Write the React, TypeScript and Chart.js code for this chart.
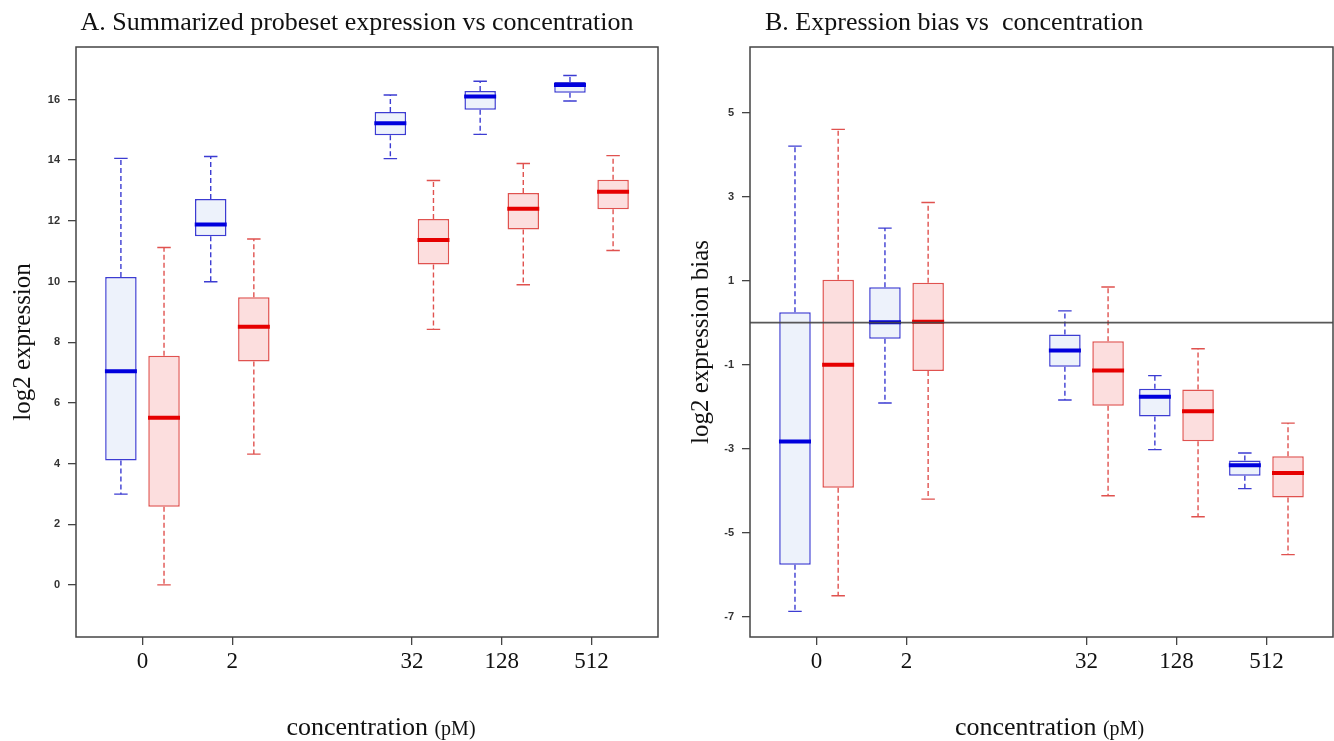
import React, { useEffect, useRef } from 'react';
import { Chart, registerables } from 'chart.js';

Chart.register(...registerables);

// ---------- data ----------
const concentrations = ['0', '2', '32', '128', '512'];
const slots = [1, 2, 4, 5, 6]; // axis position of each concentration group

// Panel A: summarized probeset expression (log2)
const aBlueMin = [2.99, 9.99, 14.05, 14.85, 15.95];
const aBlueQ1 = [4.1, 11.49, 14.82, 15.66, 16.22];
const aBlueMed = [7.04, 11.88, 15.22, 16.1, 16.48];
const aBlueQ3 = [10.15, 12.72, 15.59, 16.28, 16.58];
const aBlueMax = [14.06, 14.12, 16.15, 16.6, 16.79];

const aRedMin = [0, 4.31, 8.42, 9.89, 11.02];
const aRedQ1 = [2.57, 7.36, 10.56, 11.71, 12.38];
const aRedMed = [5.51, 8.51, 11.37, 12.4, 12.96];
const aRedQ3 = [7.55, 9.48, 12.06, 12.92, 13.35];
const aRedMax = [11.12, 11.4, 13.33, 13.89, 14.15];

const aYTicks = [0, 2, 4, 6, 8, 10, 12, 14, 16];

// Panel B: expression bias (log2)
const bBlueMin = [-6.87, -1.91, -1.84, -3.02, -3.95];
const bBlueQ1 = [-5.76, -0.38, -1.05, -2.23, -3.64];
const bBlueMed = [-2.83, 0.01, -0.66, -1.76, -3.39];
const bBlueQ3 = [0.245, 0.84, -0.28, -1.57, -3.28];
const bBlueMax = [4.2, 2.25, 0.28, -1.26, -3.1];

const bRedMin = [-6.5, -4.2, -4.12, -4.62, -5.52];
const bRedQ1 = [-3.93, -1.15, -1.98, -2.82, -4.16];
const bRedMed = [-1.0, 0.02, -1.14, -2.11, -3.58];
const bRedQ3 = [1.02, 0.95, -0.44, -1.59, -3.18];
const bRedMax = [4.6, 2.86, 0.85, -0.62, -2.39];

const bYTicks = [-7, -5, -3, -1, 1, 3, 5];
const bReferenceLevel = 0;

// ---------- styling ----------
const X_MIN = 0.26;
const X_MAX = 6.74;
const GROUP_OFFSET = 0.24;
const BOX_RATIO = 0.73;
const MEDIAN_HALF = 0.178;
const CAP_HALF = 0.075;

const BLUE = { line: '#3c3cd2', fill: '#edf2fb', median: '#0000dd' };
const RED = { line: '#e0524f', fill: '#fcdede', median: '#e60000' };

type Series = { min: number[]; q1: number[]; med: number[]; q3: number[]; max: number[] };
type Palette = { line: string; fill: string; median: string };

function boxplotDatasets(s: Series, offset: number, c: Palette) {
  const xs = slots.map((v) => v + offset);
  const whiskers: any[] = [];
  const caps: any[] = [];
  const medians: any[] = [];
  xs.forEach((x, i) => {
    whiskers.push({ x, y: s.q3[i] }, { x, y: s.max[i] }, { x, y: null });
    whiskers.push({ x, y: s.q1[i] }, { x, y: s.min[i] }, { x, y: null });
    caps.push({ x: x - CAP_HALF, y: s.max[i] }, { x: x + CAP_HALF, y: s.max[i] }, { x, y: null });
    caps.push({ x: x - CAP_HALF, y: s.min[i] }, { x: x + CAP_HALF, y: s.min[i] }, { x, y: null });
    medians.push({ x: x - MEDIAN_HALF, y: s.med[i] }, { x: x + MEDIAN_HALF, y: s.med[i] }, { x, y: null });
  });
  return [
    {
      type: 'bar',
      data: xs.map((x, i) => ({ x, y: [s.q1[i], s.q3[i]] })),
      backgroundColor: c.fill,
      borderColor: c.line,
      borderWidth: 1.5,
      borderSkipped: false,
      grouped: false,
      categoryPercentage: 1,
      barPercentage: BOX_RATIO,
      order: 2,
    },
    {
      type: 'line',
      data: whiskers,
      borderColor: c.line,
      borderWidth: 1.4,
      borderDash: [5, 3],
      pointRadius: 0,
      spanGaps: false,
      order: 3,
    },
    {
      type: 'line',
      data: caps,
      borderColor: c.line,
      borderWidth: 1.4,
      pointRadius: 0,
      spanGaps: false,
      order: 3,
    },
    {
      type: 'line',
      data: medians,
      borderColor: c.median,
      borderWidth: 4,
      borderCapStyle: 'butt',
      pointRadius: 0,
      spanGaps: false,
      order: 1,
    },
  ];
}

type PanelCfg = {
  title: string;
  titleAlign: 'center' | 'left';
  titleShift: number;
  xTitleShift: number;
  yTitle: string;
  yTitleSize: number;
  yTitlePad: number;
  yWidth: number;
  yMin: number;
  yMax: number;
  yTicks: number[];
  rightPad: number;
  blue: Series;
  red: Series;
  reference?: number;
};

function decorPlugin(cfg: PanelCfg) {
  return {
    id: 'decor',
    afterDraw(chart: any) {
      const { ctx, chartArea: a } = chart;
      ctx.save();
      ctx.strokeStyle = '#444';
      ctx.lineWidth = 1.5;
      ctx.strokeRect(a.left, a.top, a.right - a.left, a.bottom - a.top);

      ctx.fillStyle = '#111';
      ctx.textBaseline = 'alphabetic';
      ctx.font = '26px "Liberation Serif"';
      if (cfg.titleAlign === 'center') {
        ctx.textAlign = 'center';
        ctx.fillText(cfg.title, (a.left + a.right) / 2 + cfg.titleShift, 30);
      } else {
        ctx.textAlign = 'left';
        ctx.fillText(cfg.title, a.left + cfg.titleShift, 30);
      }

      const p1 = 'concentration ';
      const p2 = '(pM)';
      ctx.font = '26px "Liberation Serif"';
      const w1 = ctx.measureText(p1).width;
      ctx.font = '20px "Liberation Serif"';
      const w2 = ctx.measureText(p2).width;
      const x0 = (a.left + a.right) / 2 - (w1 + w2) / 2 + cfg.xTitleShift;
      ctx.textAlign = 'left';
      ctx.font = '26px "Liberation Serif"';
      ctx.fillText(p1, x0, 735);
      ctx.font = '20px "Liberation Serif"';
      ctx.fillText(p2, x0 + w1, 735);
      ctx.restore();
    },
  };
}

function buildChart(canvas: HTMLCanvasElement, cfg: PanelCfg) {
  const datasets: any[] = [
    ...boxplotDatasets(cfg.blue, -GROUP_OFFSET, BLUE),
    ...boxplotDatasets(cfg.red, GROUP_OFFSET, RED),
  ];
  if (cfg.reference !== undefined) {
    datasets.push({
      type: 'line',
      data: [
        { x: X_MIN, y: cfg.reference },
        { x: X_MAX, y: cfg.reference },
      ],
      borderColor: 'rgba(70,70,70,0.9)',
      borderWidth: 1.6,
      pointRadius: 0,
      order: 0,
    });
  }
  return new Chart(canvas, {
    type: 'bar',
    data: { datasets },
    options: {
      responsive: false,
      animation: false,
      events: [],
      layout: { padding: { top: 47, right: cfg.rightPad, left: 0, bottom: 0 } },
      plugins: {
        legend: { display: false },
        tooltip: { enabled: false },
        title: { display: false },
      },
      scales: {
        x: {
          type: 'linear',
          min: X_MIN,
          max: X_MAX,
          offset: false,
          afterBuildTicks: (s: any) => {
            s.ticks = slots.map((v) => ({ value: v }));
          },
          afterFit: (s: any) => {
            s.height = 104;
          },
          ticks: {
            autoSkip: false,
            maxRotation: 0,
            callback: (_v: any, i: number) => concentrations[i],
            font: { family: '"Liberation Serif"', size: 23 },
            color: '#111',
            padding: 3,
          },
          grid: { drawOnChartArea: false, drawTicks: true, tickLength: 8, color: '#444', lineWidth: 1.3, offset: false },
          border: { display: false },
        },
        y: {
          type: 'linear',
          min: cfg.yMin,
          max: cfg.yMax,
          afterBuildTicks: (s: any) => {
            s.ticks = cfg.yTicks.map((v) => ({ value: v }));
          },
          afterFit: (s: any) => {
            s.width = cfg.yWidth;
          },
          ticks: {
            autoSkip: false,
            callback: (v: any) => String(v),
            font: { family: '"Liberation Sans"', size: 11, weight: 'bold' },
            color: '#333',
            padding: 8,
          },
          grid: { drawOnChartArea: false, drawTicks: true, tickLength: 8, color: '#444', lineWidth: 1.3 },
          border: { display: false },
          title: {
            display: true,
            text: cfg.yTitle,
            font: { family: '"Liberation Serif"', size: cfg.yTitleSize },
            color: '#111',
            padding: { top: cfg.yTitlePad, bottom: 0 },
          },
        },
      },
    } as any,
    plugins: [decorPlugin(cfg)],
  } as any);
}

const panelA: PanelCfg = {
  title: 'A. Summarized probeset expression vs concentration',
  titleAlign: 'center',
  titleShift: -10,
  xTitleShift: 14,
  yTitle: 'log2 expression',
  yTitleSize: 25,
  yTitlePad: 8,
  yWidth: 76,
  yMin: -1.72,
  yMax: 17.73,
  yTicks: aYTicks,
  rightPad: 9,
  blue: { min: aBlueMin, q1: aBlueQ1, med: aBlueMed, q3: aBlueQ3, max: aBlueMax },
  red: { min: aRedMin, q1: aRedQ1, med: aRedMed, q3: aRedQ3, max: aRedMax },
};

const panelB: PanelCfg = {
  title: 'B. Expression bias vs  concentration',
  titleAlign: 'left',
  titleShift: 15,
  xTitleShift: 8,
  yTitle: 'log2 expression bias',
  yTitleSize: 25,
  yTitlePad: 19,
  yWidth: 83,
  yMin: -7.48,
  yMax: 6.56,
  yTicks: bYTicks,
  rightPad: 1,
  blue: { min: bBlueMin, q1: bBlueQ1, med: bBlueMed, q3: bBlueQ3, max: bBlueMax },
  red: { min: bRedMin, q1: bRedQ1, med: bRedMed, q3: bRedQ3, max: bRedMax },
  reference: bReferenceLevel,
};

export default function App() {
  const refA = useRef<HTMLCanvasElement | null>(null);
  const refB = useRef<HTMLCanvasElement | null>(null);

  useEffect(() => {
    const cA = buildChart(refA.current as HTMLCanvasElement, panelA);
    const cB = buildChart(refB.current as HTMLCanvasElement, panelB);
    return () => {
      cA.destroy();
      cB.destroy();
    };
  }, []);

  return (
    <div style={{ position: 'absolute', left: 0, top: 0, width: 1334, height: 741, background: '#fff', overflow: 'hidden' }}>
      <canvas ref={refA} width={667} height={741} style={{ position: 'absolute', left: 0, top: 0, width: 667, height: 741 }} />
      <canvas ref={refB} width={667} height={741} style={{ position: 'absolute', left: 667, top: 0, width: 667, height: 741 }} />
    </div>
  );
}
